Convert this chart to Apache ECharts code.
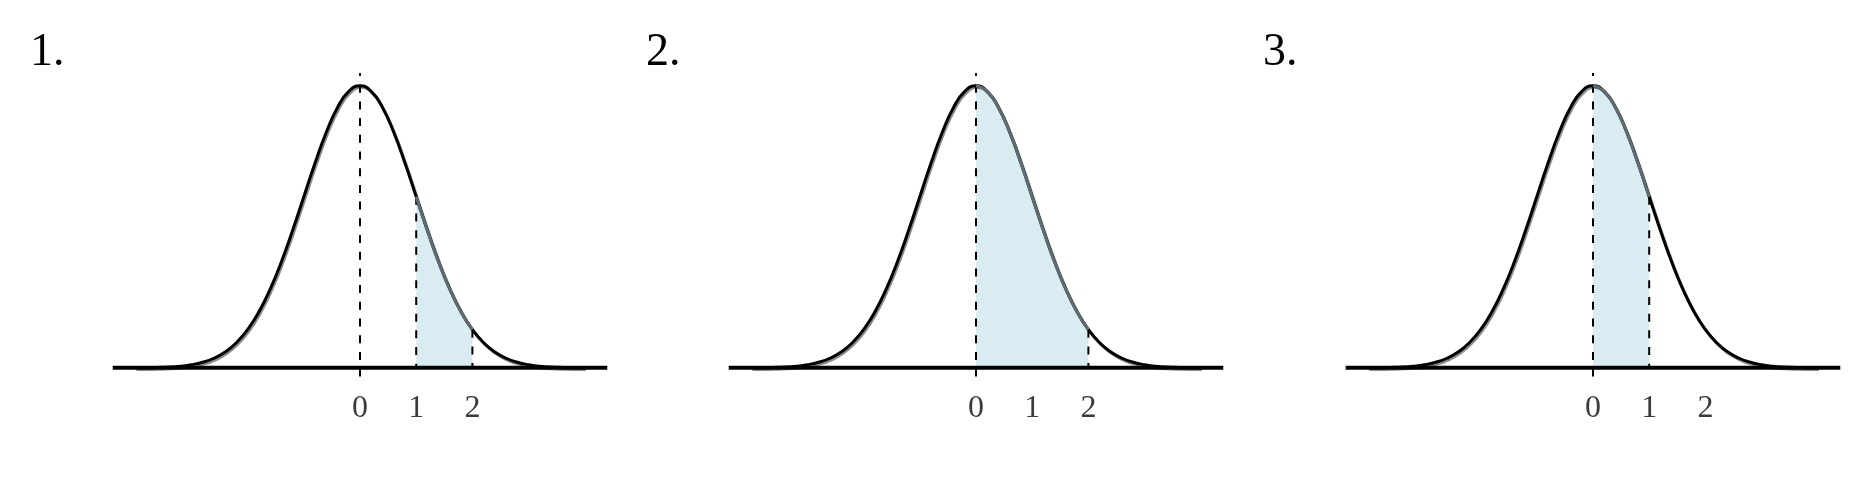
<!DOCTYPE html>
<html>
<head>
<meta charset="utf-8">
<script src="https://cdn.jsdelivr.net/npm/echarts@6/dist/echarts.min.js"></script>
<style>
  html, body { margin: 0; padding: 0; background: #fff; }
  #main { width: 1872px; height: 504px; }
</style>
</head>
<body>
<div id="main"></div>
<script>
// curve (same bell in every panel)
var xs = [-4, -3.8, -3.6, -3.4, -3.2, -3, -2.8, -2.6, -2.4, -2.2, -2, -1.8, -1.6, -1.4, -1.2, -1, -0.8, -0.6, -0.4, -0.2,
          0, 0.2, 0.4, 0.6, 0.8, 1, 1.2, 1.4, 1.6, 1.8, 2, 2.2, 2.4, 2.6, 2.8, 3, 3.2, 3.4, 3.6, 3.8, 4];
var density = [0.0001, 0.0003, 0.0006, 0.0012, 0.0024, 0.0044, 0.0079, 0.0136, 0.0224, 0.0355,
               0.0540, 0.0790, 0.1109, 0.1497, 0.1942, 0.2420, 0.2897, 0.3332, 0.3683, 0.3910,
               0.3989,
               0.3910, 0.3683, 0.3332, 0.2897, 0.2420, 0.1942, 0.1497, 0.1109, 0.0790, 0.0540,
               0.0355, 0.0224, 0.0136, 0.0079, 0.0044, 0.0024, 0.0012, 0.0006, 0.0003, 0.0001];

// shaded band of each panel
var panelLabels = ['1.', '2.', '3.'];
var shadeFrom = [1, 0, 0];
var shadeTo = [2, 2, 1];
var tickValues = [0, 1, 2];

var xMin = -4.4, xMax = 4.4;
var yMin = -0.02, yMax = 0.417;

var chart = echarts.init(document.getElementById('main'), null, { renderer: 'canvas' });

var grids = [], xAxes = [], yAxes = [], series = [], graphics = [];
var lefts = [112.7, 728.7, 1345.7];
var gridW = 494.6;

function densityAt(x) {
  var i = xs.indexOf(x);
  return i >= 0 ? density[i] : 0;
}

for (var p = 0; p < 3; p++) {
  grids.push({ left: lefts[p], top: 73, width: gridW, height: 309 });
  xAxes.push({
    type: 'value', gridIndex: p, min: xMin, max: xMax,
    axisLine: { show: false }, axisTick: { show: false }, splitLine: { show: false },
    axisLabel: {
      customValues: tickValues,
      margin: 27,
      verticalAlign: 'middle',
      fontFamily: 'Liberation Serif',
      fontSize: 32,
      color: '#3a3a3a'
    }
  });
  yAxes.push({ type: 'value', gridIndex: p, min: yMin, max: yMax, show: false });

  var curve = xs.map(function (x, i) { return [x, density[i]]; });
  var lo = shadeFrom[p], hi = shadeTo[p];
  var band = curve.filter(function (d) { return d[0] >= lo - 1e-9 && d[0] <= hi + 1e-9; });

  // shaded area
  series.push({
    type: 'line', xAxisIndex: p, yAxisIndex: p, data: band, smooth: true, symbol: 'none', z: 1,
    lineStyle: { width: 0 },
    areaStyle: { color: '#d8ecf2', opacity: 1, origin: 0 }
  });

  // dashed line at 0 (full height)
  series.push({
    type: 'line', xAxisIndex: p, yAxisIndex: p, data: [[0, yMax], [0, yMin]], symbol: 'none', z: 2,
    lineStyle: { color: '#000', width: 2, type: [8, 8.7], dashOffset: 5 }
  });

  // dashed lines at the band edges
  [lo, hi].forEach(function (b) {
    if (b === 0) return;
    series.push({
      type: 'line', xAxisIndex: p, yAxisIndex: p, data: [[b, densityAt(b)], [b, 0]], symbol: 'none', z: 2,
      lineStyle: { color: '#000', width: 2, type: [8, 8.7] }
    });
  });

  // bell curve
  series.push({
    type: 'line', xAxisIndex: p, yAxisIndex: p, data: curve, smooth: true, symbol: 'none', z: 3,
    lineStyle: { color: '#000', width: 3, shadowColor: 'rgba(0,0,0,0.45)', shadowBlur: 0, shadowOffsetX: 1.2, shadowOffsetY: 1.8 }
  });

  // curve over shaded part looks grey
  series.push({
    type: 'line', xAxisIndex: p, yAxisIndex: p, data: band, smooth: true, symbol: 'none', z: 4,
    lineStyle: { color: '#5f6c71', width: 3 }
  });

  // thick baseline
  series.push({
    type: 'line', xAxisIndex: p, yAxisIndex: p, data: [[xMin, 0], [xMax, 0]], symbol: 'none', z: 5,
    lineStyle: { color: '#000', width: 4 }
  });

  // panel number, placed 330px left of the zero line
  graphics.push({
    type: 'text', x: lefts[p] + gridW / 2 - 330, y: 53,
    style: { text: panelLabels[p], font: '46px "Liberation Serif"', fill: '#000', verticalAlign: 'middle' }
  });
}

chart.setOption({
  animation: false,
  backgroundColor: '#fff',
  grid: grids,
  xAxis: xAxes,
  yAxis: yAxes,
  series: series,
  graphic: graphics
});
</script>
</body>
</html>
